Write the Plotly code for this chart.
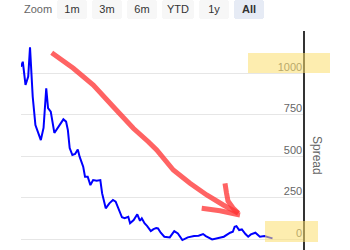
import plotly.graph_objects as go
import pandas as pd

weeks = [1, 3, 6, 9, 11, 14, 17, 21, 23, 26, 29, 31, 34, 38, 43, 48, 51, 53, 55, 58,
         61, 64, 66, 70, 72, 75, 78, 81, 85, 89, 91, 95, 99, 103, 106, 110, 113, 116, 120, 122,
         126, 130, 133, 135, 138, 141, 145, 148, 151, 153, 156, 160, 166, 171, 175, 180, 186, 193, 198, 203,
         206, 213, 220, 226, 233, 236, 238, 240, 243, 246, 250, 253, 256, 261, 266, 271, 276, 280]
spread = [1038, 1068, 928, 978, 1155, 857, 687, 627, 596, 669, 908, 789, 767, 639, 677, 721, 707, 656, 548, 506,
          512, 540, 496, 436, 375, 375, 325, 355, 351, 355, 275, 185, 215, 235, 225, 175, 131, 125, 134, 95,
          114, 149, 110, 125, 95, 78, 48, 60, 66, 64, 38, 14, 10, 48, 34, -6, 10, 18, 20, 30,
          18, -2, 6, 14, 38, 44, 74, 78, 54, 58, 30, 14, 28, 38, 14, 18, 10, 4]
tick_vals = [0, 250, 500, 750, 1000, 1250]
tick_text = ["0", "250", "500", "750", "1000", ""]
button_labels = ["1m", "3m", "6m", "YTD", "1y", "<b>All</b>"]

dates = pd.Timestamp("2008-01-01") + pd.to_timedelta([w * 7 for w in weeks], unit="D")

W, H = 350, 250
L, R, T, B = 21, 303, 31, 250


def px(x, y):
    return (x - L) / (R - L), (B - y) / (B - T)


def path(pts):
    s = ""
    for i, (x, y) in enumerate(pts):
        a, b = px(x, y)
        s += ("M" if i == 0 else "L") + f"{a:.4f},{b:.4f} "
    return s


fig = go.Figure()
fig.add_trace(go.Scatter(x=dates, y=spread, mode="lines",
                         line=dict(color="#0000ff", width=2), showlegend=False))

font = "Liberation Sans, Arial, sans-serif"
steps = [dict(count=1, step="month"), dict(count=3, step="month"), dict(count=6, step="month"),
         dict(count=1, step="year", stepmode="todate"), dict(count=1, step="year"), dict(step="all")]
buttons = [dict(label=lbl, **st) for lbl, st in zip(button_labels, steps)]

bx, by = px(57, 0)
fig.update_layout(
    width=W, height=H,
    margin=dict(l=L, r=W - R, t=T, b=H - B),
    paper_bgcolor="white", plot_bgcolor="white",
    font=dict(family=font, color="#333"),
    xaxis=dict(showticklabels=False, showgrid=False, zeroline=False, showline=False, ticks="",
               rangeselector=dict(buttons=buttons, x=bx, y=by, xanchor="left", yanchor="top",
                                  bgcolor="#f7f7f7", activecolor="#e6ebf5",
                                  font=dict(size=11, color="#333", family=font))),
    yaxis=dict(side="right", ticklabelposition="inside", tickvals=tick_vals, ticktext=tick_text,
               range=[-66, 1253], gridcolor="#e6e6e6", gridwidth=1, zeroline=False,
               showline=True, linecolor="#333", linewidth=2, ticks="",
               tickfont=dict(size=11, color="#666", family=font), ticklabelshift=-6),
)

zx, zy = px(22, 9)
fig.add_annotation(x=zx, y=zy, xref="paper", yref="paper", text="Zoom", showarrow=False,
                   xanchor="left", yanchor="middle", font=dict(size=11, color="#666", family=font))
sx, sy = px(317, 155)
fig.add_annotation(x=sx, y=sy, xref="paper", yref="paper", text="Spread", showarrow=False,
                   textangle=90, xanchor="center", yanchor="middle",
                   font=dict(size=12, color="#666", family=font))

hl = "rgba(252,222,110,0.55)"
for (x0, y0, x1, y1) in [(248, 53, 330, 73), (265, 221, 318, 242)]:
    a0, b0 = px(x0, y0)
    a1, b1 = px(x1, y1)
    fig.add_shape(type="rect", xref="paper", yref="paper", x0=a0, y0=b0, x1=a1, y1=b1,
                  fillcolor=hl, line=dict(width=0), layer="above")

red = dict(color="rgba(255,55,55,0.78)", width=5)
shaft = [(51.7, 52.7), (73.3, 68.3), (93.3, 85), (113.3, 106.7), (133.3, 128.3), (148.3, 141.7),
         (156.7, 150), (173.3, 170), (190, 183.3), (206.7, 195), (223.3, 205), (238.3, 213.3)]
head1 = [(225, 183.3), (226.5, 193), (228, 201), (233, 208), (238.3, 213.3)]
head2 = [(201.7, 208.3), (220, 210.7), (240, 215)]
for p in (shaft, head1, head2):
    fig.add_shape(type="path", xref="paper", yref="paper", path=path(p), line=red, layer="above")

fig.write_html("out.html")
